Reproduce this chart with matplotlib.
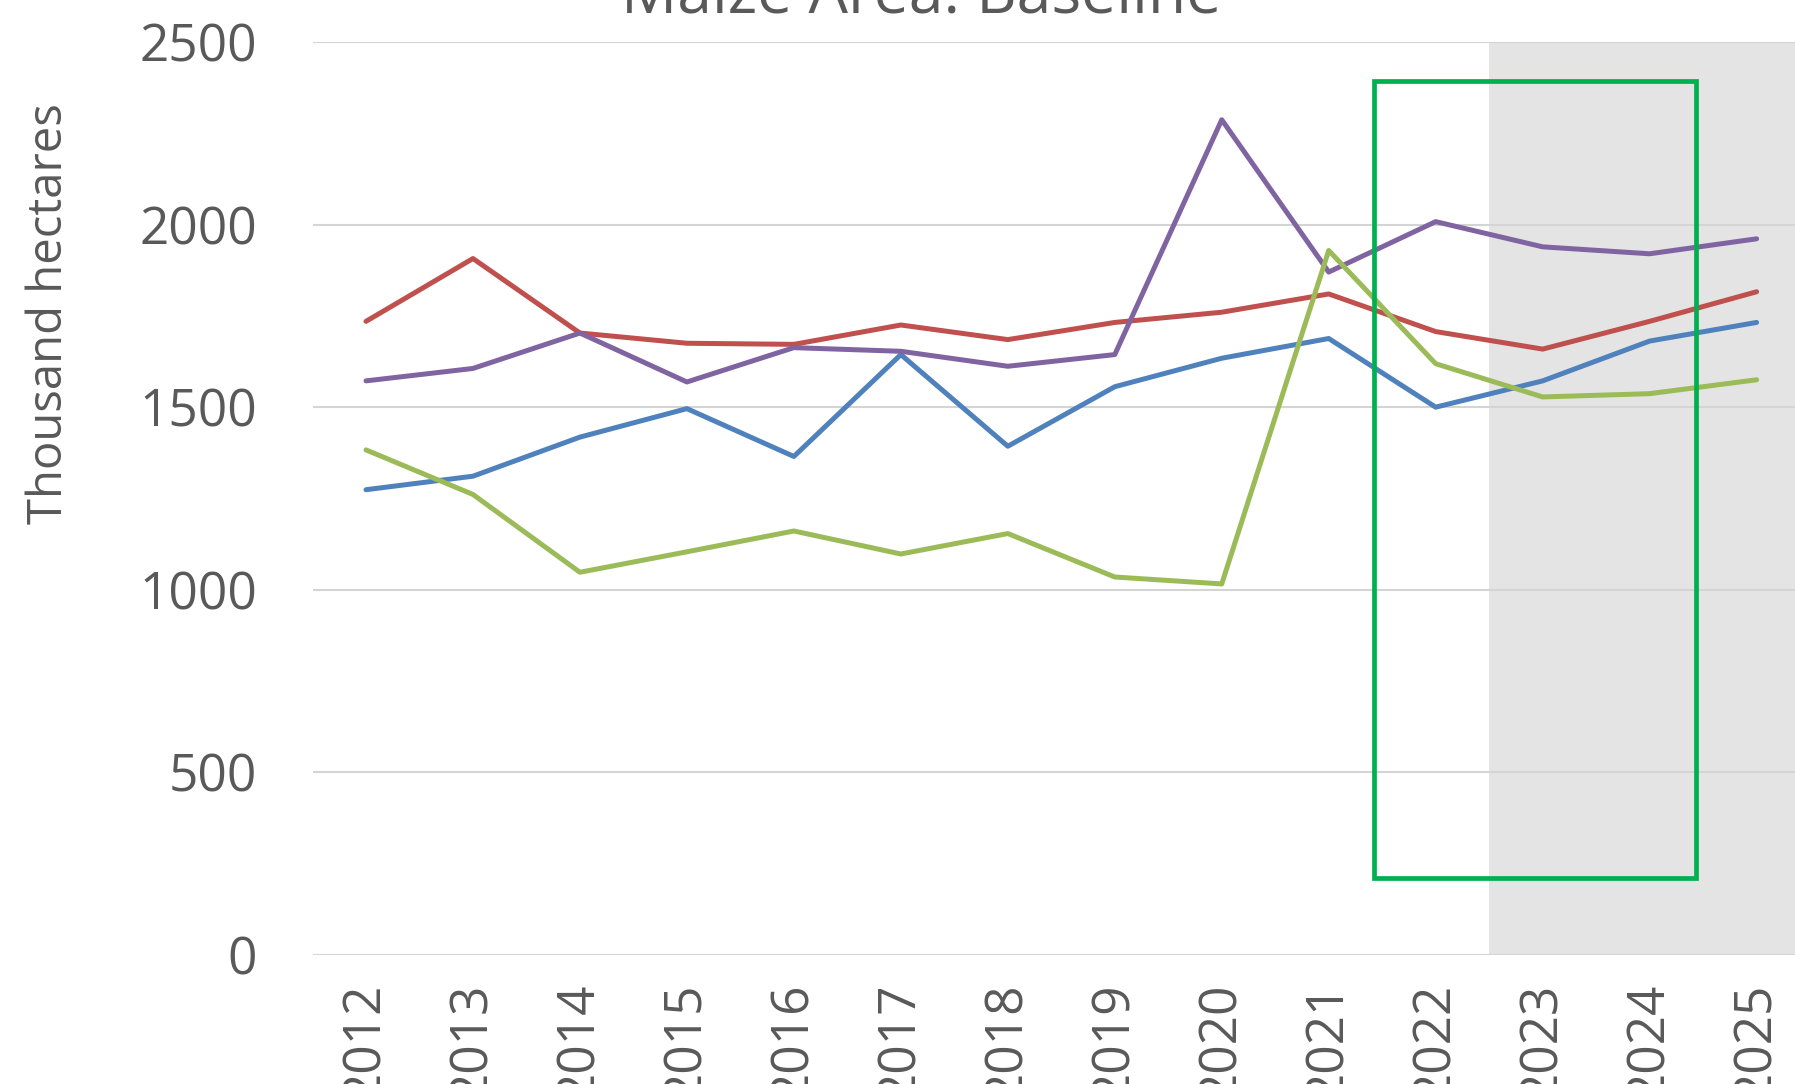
import matplotlib
matplotlib.use('Agg')
import matplotlib.pyplot as plt
from matplotlib.patches import Rectangle

plt.rcParams['font.family'] = ['Open Sans', 'DejaVu Sans']

years = ['2012', '2013', '2014', '2015', '2016', '2017', '2018',
         '2019', '2020', '2021', '2022', '2023', '2024', '2025']

# Maize area, thousand hectares
series_blue = [1274, 1311, 1418, 1496, 1365, 1644, 1393,
               1556, 1634, 1688, 1500, 1572, 1681, 1732]
series_red = [1735, 1907, 1703, 1675, 1672, 1725, 1685,
              1732, 1760, 1810, 1707, 1659, 1735, 1816]
series_purple = [1572, 1606, 1703, 1569, 1663, 1653, 1612,
                 1644, 2287, 1870, 2008, 1939, 1920, 1961]
series_green = [1383, 1261, 1048, 1104, 1161, 1098, 1154,
                1035, 1016, 1929, 1619, 1528, 1537, 1575]

y_ticks = [0, 500, 1000, 1500, 2000, 2500]

TXT = '#595959'


def main():
    fig = plt.figure(figsize=(17.95, 10.84), dpi=100)
    ax = fig.add_axes([0.1741, 0.119, 0.8343, 0.8423])

    x = range(len(years))
    ax.plot(x, series_blue, color='#4f81bd', lw=3.6, solid_capstyle='round', zorder=3)
    ax.plot(x, series_red, color='#c0504d', lw=3.6, solid_capstyle='round', zorder=3)
    ax.plot(x, series_purple, color='#8064a2', lw=3.6, solid_capstyle='round', zorder=3)
    ax.plot(x, series_green, color='#9bbb59', lw=3.6, solid_capstyle='round', zorder=3)

    # projection period shading
    ax.axvspan(10.5, 13.5, color='#e4e4e4', lw=0, zorder=0)

    # highlight box
    ax.add_patch(Rectangle((9.42, 211), 3.01, 2182, fill=False,
                           edgecolor='#00b050', lw=3.4, zorder=4, clip_on=False))

    ax.set_xlim(-0.5, 13.5)
    ax.set_ylim(0, 2500)
    ax.set_xticks(list(x))
    ax.set_xticklabels(years, rotation=90)
    ax.set_yticks(y_ticks)
    ax.tick_params(axis='both', length=0, labelsize=37, colors=TXT)
    ax.tick_params(axis='y', pad=40)
    ax.tick_params(axis='x', pad=20)
    for lbl in ax.get_xticklabels():
        lbl.set_va('top')

    ax.grid(axis='y', color='#d4d4d4', lw=1.5, zorder=1)
    ax.set_axisbelow(True)
    for s in ax.spines.values():
        s.set_visible(False)

    fig.text(0.513, 1 - 13 / 1084, 'Maize Area: Baseline', ha='center',
             va='baseline', fontsize=45, color=TXT)
    fig.text(49 / 1795, 1 - 314 / 1084, 'Thousand hectares', rotation=90,
             ha='center', va='center', fontsize=34, color=TXT,
             family=['Liberation Sans Narrow', 'Open Sans', 'DejaVu Sans'])

    fig.savefig('out.png', dpi=100)


if __name__ == '__main__':
    main()
